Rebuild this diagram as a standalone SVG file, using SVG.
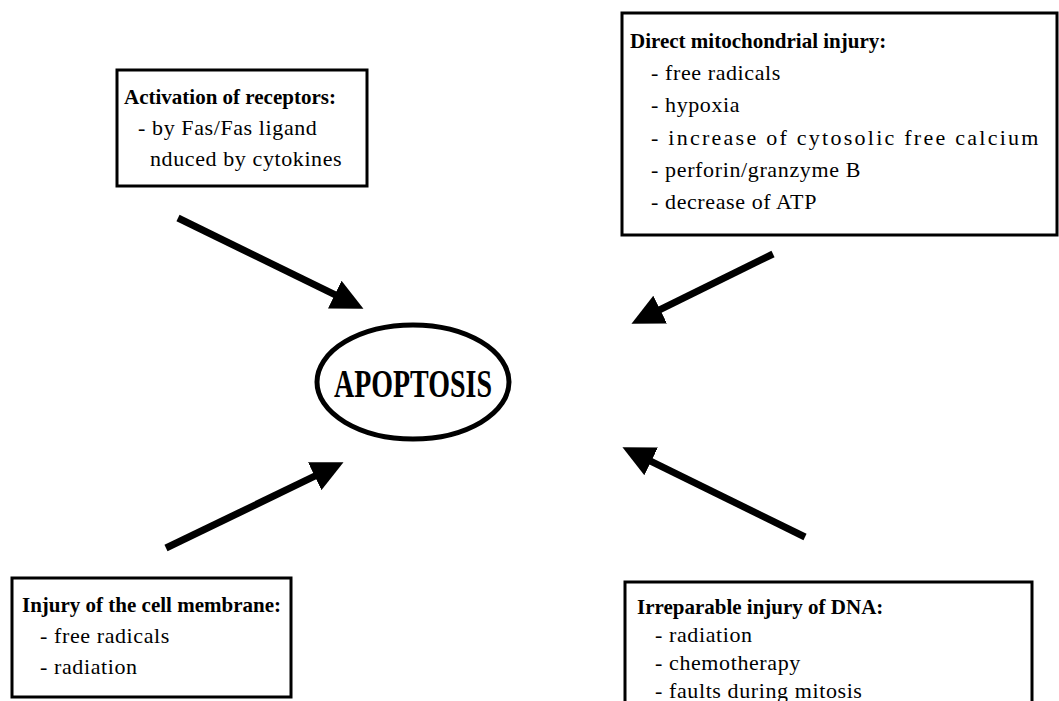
<svg xmlns="http://www.w3.org/2000/svg" width="1059" height="701" viewBox="0 0 1059 701">
<style>
.box{fill:#fff;stroke:#000;stroke-width:3}
.t{font-family:"Liberation Serif",serif;font-size:22px;fill:#000;letter-spacing:0.6px}
.b{font-weight:bold;font-size:21px;letter-spacing:0}
.arr{stroke:#000;stroke-width:7;fill:none;marker-end:url(#ah)}
</style>
<defs>
<marker id="ah" markerUnits="userSpaceOnUse" markerWidth="32" markerHeight="32" refX="10" refY="15" orient="auto" viewBox="0 0 31 30">
<path d="M0,0 L31,15 L0,30 z" fill="#000"/>
</marker>
</defs>
<rect width="1059" height="701" fill="#fff"/>
<g id="connectors">
<line class="arr" x1="178" y1="218" x2="344" y2="299.2"/>
<line class="arr" x1="773" y1="254" x2="650.9" y2="314.2"/>
<line class="arr" x1="166" y1="548" x2="324" y2="471.7"/>
<line class="arr" x1="805" y1="537" x2="641.9" y2="456.8"/>
</g>
<g id="apoptosis">
<ellipse cx="413" cy="382" rx="96" ry="57" fill="#fff" stroke="#000" stroke-width="5"/>
<text class="t b" x="413" y="397" text-anchor="middle" textLength="158" lengthAdjust="spacingAndGlyphs" style="font-size:40px;letter-spacing:0">APOPTOSIS</text>
</g>
<g id="receptors">
<rect class="box" x="117" y="70" width="250" height="116"/>
<text class="t b" x="124" y="104">Activation of receptors:</text>
<text class="t" x="138" y="135">- by Fas/Fas ligand</text>
<text class="t" x="150" y="166">nduced by cytokines</text>
</g>
<g id="mitochondrial">
<rect class="box" x="622" y="13" width="435" height="222"/>
<text class="t b" x="630" y="48">Direct mitochondrial injury:</text>
<text class="t" x="651" y="80">- free radicals</text>
<text class="t" x="651" y="112">- hypoxia</text>
<text class="t" x="651" y="145" textLength="388" lengthAdjust="spacing">- increase of cytosolic free calcium</text>
<text class="t" x="651" y="177" textLength="210" lengthAdjust="spacing">- perforin/granzyme B</text>
<text class="t" x="651" y="209">- decrease of ATP</text>
</g>
<g id="membrane">
<rect class="box" x="12" y="578" width="279" height="119"/>
<text class="t b" x="22" y="612">Injury of the cell membrane:</text>
<text class="t" x="40" y="643">- free radicals</text>
<text class="t" x="40" y="674">- radiation</text>
</g>
<g id="dna">
<rect class="box" x="625" y="582" width="407" height="140"/>
<text class="t b" x="637" y="614">Irreparable injury of DNA:</text>
<text class="t" x="655" y="642">- radiation</text>
<text class="t" x="655" y="670">- chemotherapy</text>
<text class="t" x="655" y="698">- faults during mitosis</text>
</g>
</svg>
